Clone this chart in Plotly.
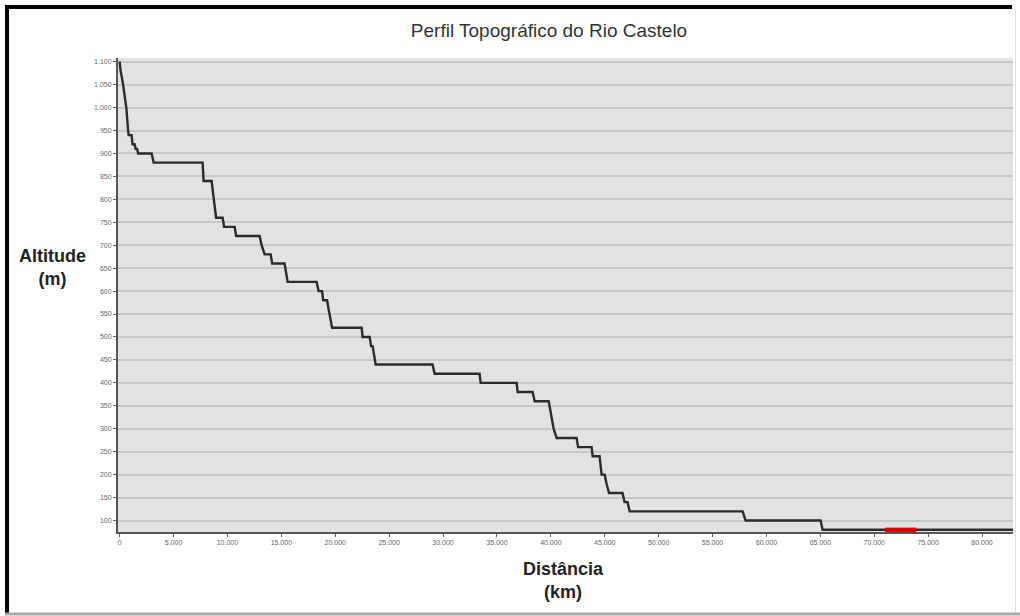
import plotly.graph_objects as go

# Profile vertices: distance (m) and altitude (m)
distance = [0, 93, 325, 620, 790, 835, 1110, 1200, 1390, 1485, 1620, 1715, 2970, 3155,
            7700, 7790, 8530, 8625, 8810, 8950, 9555, 9690, 10670, 10810, 12990, 13170,
            13450, 14010, 14150, 15300, 15585, 18270, 18460, 18780, 18880, 19250, 19390,
            19710, 22450, 22540, 23190, 23330, 23470, 23750, 29030, 29220, 33390, 33490,
            36830, 36920, 38310, 38500, 39800, 40070, 40260, 40540, 42390, 42530, 43780,
            43880, 44520, 44710, 44990, 45170, 45400, 46650, 46840, 47120, 47310, 57790,
            58070, 65020, 65210, 83000]
altitude = [1100, 1080, 1050, 1000, 950, 940, 940, 920, 920, 910, 910, 900, 900, 880,
            880, 840, 840, 820, 780, 760, 760, 740, 740, 720, 720, 700,
            680, 680, 660, 660, 620, 620, 600, 600, 580, 580, 560,
            520, 520, 500, 500, 480, 480, 440, 440, 420, 420, 400,
            400, 380, 380, 360, 360, 320, 300, 280, 280, 260, 260,
            240, 240, 200, 200, 180, 160, 160, 140, 140, 120, 120,
            100, 100, 80, 80]

# Highlighted stretch (red)
red_distance = [71000, 73900]
red_altitude = [78, 78]

y_ticks = [100, 150, 200, 250, 300, 350, 400, 450, 500, 550, 600, 650, 700, 750,
           800, 850, 900, 950, 1000, 1050, 1100]
x_ticks = list(range(0, 80001, 5000))

L, R, T, B = 118, 7, 58, 84
W, H = 1020, 616
pw, ph = W - L - R, H - T - B

def px2paper_x(px):
    return (px - L) / pw

def px2paper_y(py):
    return (H - B - py) / ph

fig = go.Figure()
fig.add_trace(go.Scatter(x=distance, y=altitude, mode="lines",
                         line=dict(color="#2b2b2b", width=2.4), hoverinfo="x+y"))
fig.add_trace(go.Scatter(x=red_distance, y=red_altitude, mode="lines",
                         line=dict(color="#e00000", width=6)))

frame = [
    # top black edge
    dict(type="line", xref="paper", yref="paper", x0=px2paper_x(5), x1=px2paper_x(1012),
         y0=px2paper_y(7), y1=px2paper_y(7), line=dict(color="black", width=4), layer="above"),
    # left black edge
    dict(type="line", xref="paper", yref="paper", x0=px2paper_x(7), x1=px2paper_x(7),
         y0=px2paper_y(5), y1=px2paper_y(614), line=dict(color="black", width=4), layer="above"),
    # bottom grey edge
    dict(type="line", xref="paper", yref="paper", x0=px2paper_x(5), x1=px2paper_x(1020),
         y0=px2paper_y(614), y1=px2paper_y(614), line=dict(color="#a8a8a8", width=3), layer="above"),
    # faint right edge
    dict(type="line", xref="paper", yref="paper", x0=px2paper_x(1015.5), x1=px2paper_x(1015.5),
         y0=px2paper_y(9), y1=px2paper_y(613), line=dict(color="#e0e0e0", width=1), layer="above"),
]

fig.update_layout(
    width=W, height=H,
    margin=dict(l=L, r=R, t=T, b=B),
    paper_bgcolor="white",
    plot_bgcolor="#e2e2e2",
    showlegend=False,
    separators=",.",
    title=dict(text="Perfil Topográfico do Rio Castelo", x=549 / W,
               xanchor="center", y=1 - 30 / H, yanchor="middle",
               font=dict(family="Liberation Sans, Arial, sans-serif", size=19, color="#333333")),
    xaxis=dict(range=[-150, 82870], tickvals=x_ticks, tickformat=",d",
               showgrid=False, zeroline=False, showline=True, linecolor="#555555", linewidth=2,
               ticks="outside", ticklen=3, tickcolor="#666666",
               tickfont=dict(family="Liberation Sans, Arial, sans-serif", size=7, color="#666666")),
    yaxis=dict(range=[75, 1108], tickvals=y_ticks, tickformat=",d",
               showgrid=True, gridcolor="#c8c8c8", gridwidth=2, zeroline=False,
               showline=True, linecolor="#555555", linewidth=2,
               ticks="outside", ticklen=3, tickcolor="#666666",
               tickfont=dict(family="Liberation Sans, Arial, sans-serif", size=7, color="#666666")),
    shapes=frame,
    annotations=[
        dict(text="<b>Altitude<br>(m)</b>", xref="paper", yref="paper",
             x=px2paper_x(52), y=px2paper_y(267), xanchor="center", yanchor="middle",
             showarrow=False, align="center",
             font=dict(family="Liberation Sans, Arial, sans-serif", size=18, color="#222222")),
        dict(text="<b>Distância<br>(km)</b>", xref="paper", yref="paper",
             x=px2paper_x(563), y=px2paper_y(580), xanchor="center", yanchor="middle",
             showarrow=False, align="center",
             font=dict(family="Liberation Sans, Arial, sans-serif", size=18, color="#222222")),
    ],
)

fig.write_html("out.html", config={"displayModeBar": False},
               post_script="document.body.style.margin='0';document.body.style.overflow='hidden';")
